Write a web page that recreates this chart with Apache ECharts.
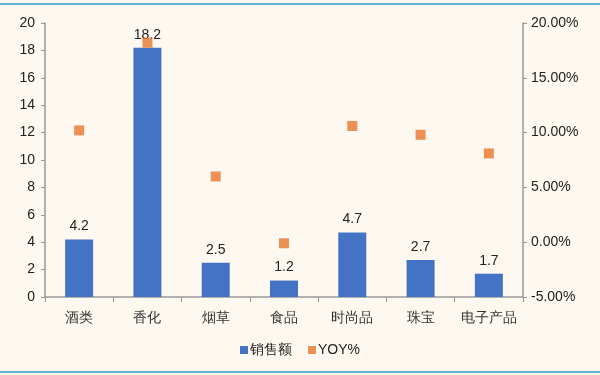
<!DOCTYPE html>
<html><head><meta charset="utf-8">
<script src="https://cdn.jsdelivr.net/npm/echarts@6/dist/echarts.min.js"></script>
<style>html,body{margin:0;padding:0;background:#fdf9f0}#c{width:600px;height:375px}</style>
</head><body><div id="c"></div>
<script>
const categories = ['酒类','香化','烟草','食品','时尚品','珠宝','电子产品'];
const sales = [4.2, 18.2, 2.5, 1.2, 4.7, 2.7, 1.7];
const yoy = [10.2, 18.2, 6.0, -0.1, 10.6, 9.8, 8.1];
const leftTicks = [0, 20, 2];
const rightTicks = [-5, 20, 5];

const chart = echarts.init(document.getElementById('c'));
const font = 'Liberation Sans, Arial, sans-serif';
chart.setOption({
  backgroundColor: '#fdf9f0',
  animation: false,
  textStyle: { fontFamily: font },
  graphic: [
    { type: 'rect', shape: { x: 0, y: 3, width: 600, height: 2 }, style: { fill: '#5ab4cc' } },
    { type: 'rect', shape: { x: 0, y: 371, width: 600, height: 2 }, style: { fill: '#5ab4cc' } }
  ],
  grid: { left: 45, right: 77, top: 23, bottom: 78 },
  legend: {
    bottom: 13, left: 'center', itemWidth: 8, itemHeight: 8, itemGap: 16,
    textStyle: { fontSize: 14, color: '#222', fontFamily: font, padding: [0, 0, 0, -3] },
    data: [{ name: '销售额', icon: 'rect' }, { name: 'YOY%', icon: 'rect' }]
  },
  xAxis: {
    type: 'category', data: categories,
    axisLine: { lineStyle: { color: '#999', width: 1.5 } },
    axisTick: { show: true, alignWithLabel: false, length: 5, lineStyle: { color: '#999' } },
    axisLabel: { color: '#333', fontSize: 14, margin: 14, interval: 0 }
  },
  yAxis: [
    { type: 'value', min: leftTicks[0], max: leftTicks[1], interval: leftTicks[2],
      axisLine: { show: true, lineStyle: { color: '#999', width: 1.5 } },
      axisTick: { show: true, length: 4, lineStyle: { color: '#999' } },
      splitLine: { show: false },
      axisLabel: { color: '#222', fontSize: 14, margin: 10 } },
    { type: 'value', min: rightTicks[0], max: rightTicks[1], interval: rightTicks[2],
      axisLine: { show: true, lineStyle: { color: '#999', width: 1.5 } },
      axisTick: { show: true, length: 4, lineStyle: { color: '#999' } },
      splitLine: { show: false },
      axisLabel: { color: '#222', fontSize: 14, margin: 8, formatter: v => v.toFixed(2) + '%' } }
  ],
  series: [
    { name: '销售额', type: 'bar', data: sales, barWidth: 28, yAxisIndex: 0,
      itemStyle: { color: '#4472c4' },
      label: { show: true, position: 'top', color: '#222', fontSize: 14, distance: 6 } },
    { name: 'YOY%', type: 'scatter', data: yoy, yAxisIndex: 1, symbol: 'rect', symbolSize: 10,
      itemStyle: { color: '#e8762c' }, z: 3 }
  ]
});
</script></body></html>
